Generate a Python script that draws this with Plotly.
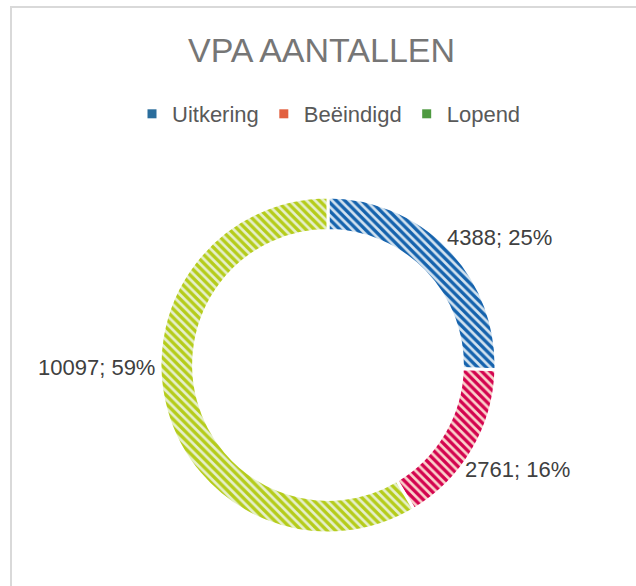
import plotly.graph_objects as go

categories = ["Uitkering", "Beëindigd", "Lopend"]
values = [4388, 2761, 10097]
stripe_colors = ["#1462ad", "#d3034f", "#b5cc1a"]
bg_colors = ["#d3e3f0", "#fbd3cb", "#e6f0cc"]
legend_colors = ["#2a6d9c", "#e2603f", "#4e9a40"]

W, H = 636, 586
cx, cy, R = 328, 365, 168

total = sum(values)
label_texts = [f"{v}; {round(100 * v / total)}%" for v in values]
# label anchor placement (pixels), similar to Excel best-fit
label_pos = [(445, 237, "left"), (463, 469, "left"), (157, 367, "right")]

fig = go.Figure()
fig.add_trace(go.Pie(
    labels=categories,
    values=values,
    sort=False,
    direction="clockwise",
    rotation=0,
    hole=0.8,
    marker=dict(
        colors=bg_colors,
        line=dict(color="white", width=3),
        pattern=dict(shape="\\", fgcolor=stripe_colors, bgcolor=bg_colors,
                     size=6, solidity=0.55, fillmode="replace"),
    ),
    textinfo="none",
    domain=dict(x=[(cx - R) / W, (cx + R) / W],
                y=[(H - cy - R) / H, (H - cy + R) / H]),
    showlegend=False,
    hoverinfo="label+value+percent",
))

for name, col in zip(categories, legend_colors):
    fig.add_trace(go.Scatter(x=[None], y=[None], mode="markers", name=name,
                             marker=dict(symbol="square", size=9, color=col)))

annotations = []
for txt, (px, py, anchor) in zip(label_texts, label_pos):
    annotations.append(dict(text=txt, xref="paper", yref="paper", x=px / W, y=1 - py / H,
                            xanchor=anchor, yanchor="middle", showarrow=False,
                            font=dict(family="Liberation Sans, Arial", size=22, color="#404040")))

fig.update_layout(
    width=W, height=H,
    margin=dict(l=0, r=0, t=0, b=0),
    paper_bgcolor="white",
    plot_bgcolor="white",
    xaxis=dict(visible=False),
    yaxis=dict(visible=False),
    title=dict(text="VPA AANTALLEN", x=321.5 / W, xanchor="center", y=1 - 50 / H, yanchor="middle",
               font=dict(family="Liberation Sans, Arial", size=34, color="#767676")),
    legend=dict(orientation="h", x=329 / W, xanchor="center", y=1 - 114 / H, yanchor="middle",
                font=dict(family="Liberation Sans, Arial", size=22, color="#595959"),
                itemwidth=30, traceorder="normal"),
    annotations=annotations,
    shapes=[dict(type="rect", xref="paper", yref="paper",
                 x0=11 / W, x1=1.05, y0=-0.05, y1=1 - 7 / H,
                 line=dict(color="#d9d9d9", width=2))],
)

fig.write_html("out.html", config={"displayModeBar": False},
               post_script="document.body.style.margin='0';")
